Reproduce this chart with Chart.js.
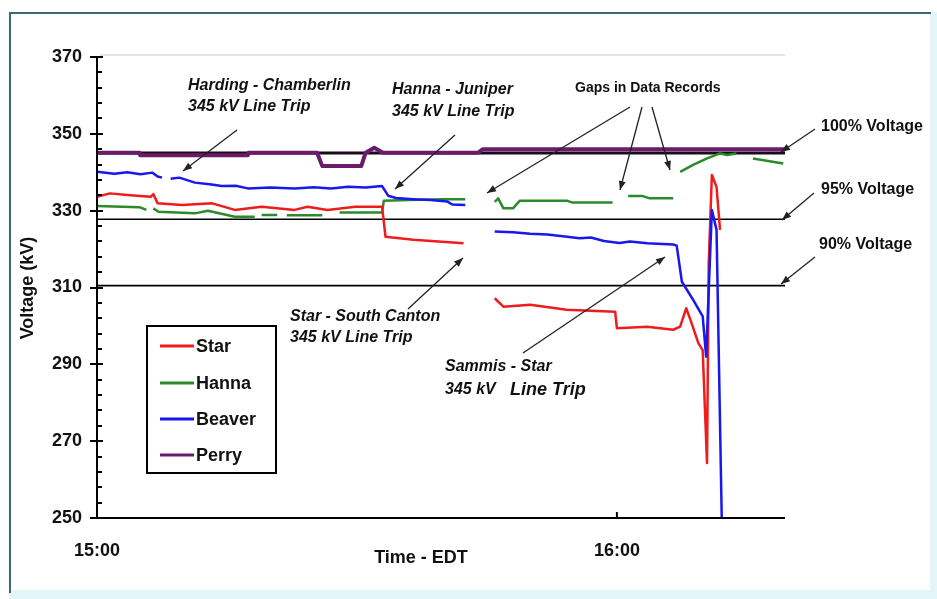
<!DOCTYPE html>
<html><head><meta charset="utf-8">
<script src="https://cdn.jsdelivr.net/npm/chart.js@4.4.1/dist/chart.umd.min.js"></script>
<style>html,body{margin:0;padding:0;background:#fff;}canvas{display:block;}</style>
</head><body>
<canvas id="c" width="937" height="599"></canvas>
<script>
// ---- data (time in minutes after 15:00 EDT, voltage in kV) ----
const starT = [0,1.5,3.5,5,6.2,6.5,7.0,9.8,13.3,15.9,19,22.8,24.3,26.6,29.8,32.9,33.3,36.5,42.3,44,45.9,46.9,50,54.2,59.8,60.0,63.5,66.5,67.3,68,68.5,69.4,69.9,70.4,70.6,70.96,71.5,71.9];
const starV = [333.6,334.5,334.1,333.8,333.6,334.3,331.9,331.5,331.9,330.2,331.0,330.2,331.0,330.2,331.0,331.0,323.2,322.4,321.5,null,307.2,305.0,305.5,304.2,303.7,299.4,299.8,299.0,299.8,304.6,301.5,295.5,293.7,264.3,316.3,339.3,336.2,325];

const hannaT = [0,4.9,5.7,6.1,6.5,7.1,11.3,12.8,15.9,18.2,18.6,19.0,20.8,21.3,21.9,26.0,27.0,28.0,32.9,33.1,36,40,42.5,44,45.9,46.3,46.9,48,48.8,54.2,54.9,59.5,60.4,61.3,63,63.8,66.5,66.9,67.3,68.8,70.4,71.9,72.7,73.8,74.7,75.7,79.2];
const hannaV = [331.2,330.9,330.2,null,330.6,329.7,329.3,330.0,328.4,328.4,null,328.9,328.9,null,328.8,328.8,null,329.5,329.5,332.6,332.8,333.0,333.0,null,332.3,333.2,330.6,330.6,332.6,332.6,332.1,332.1,null,333.8,333.8,333.2,333.2,null,340.1,341.9,343.6,344.9,344.5,344.9,null,343.6,342.3];

const beaverT = [0,2,3.5,5,6.4,7.0,7.5,8.0,8.5,9.5,11.3,13,14.4,16,17.4,20,22.8,25,27,29,31,32.9,33.6,34.5,36.5,38.5,40.4,41.0,42.5,44,45.9,48,50,52,54,55.7,57,58.5,60.3,61.5,63.5,66.5,66.9,67.5,68.8,69.9,70.3,70.96,71.5,72.1];
const beaverV = [340.1,339.6,340.0,339.5,339.9,338.9,338.6,null,338.3,338.6,337.3,336.9,336.4,336.5,335.8,336.0,335.8,336.1,335.8,336.2,336.0,336.4,333.9,333.3,333.0,332.8,332.4,331.6,331.5,null,324.6,324.4,324.0,323.8,323.3,322.8,323.0,322.1,321.6,322.0,321.5,321.2,320.9,311.5,306.8,302.5,292,330.2,325,250];

const perryT = [0,4.9,5.0,17.4,17.5,25.4,26.0,30.5,31.0,32.0,33.0,44.0,44.5,79.4];
const perryV = [345.1,345.1,344.4,344.4,345.1,345.1,341.6,341.6,345.1,346.4,345.1,345.1,346.0,346.0];

// reference voltage levels (100%, 95%, 90% of 345 kV)
const refT = [0,79.4];
const ref100 = [345,345];
const ref95 = [327.75,327.75];
const ref90 = [310.5,310.5];

const seriesNames = ['Star','Hanna','Beaver','Perry'];
const seriesColors = ['#ee1c1c','#2b8a2b','#1818ee','#6a1c6a'];

const xTickValues = [0,60];
const xTickLabels = ['15:00','16:00'];
const yMin = 250, yMax = 370, yMajor = 20, yMinor = 4;
const xMin = 0, xMax = 79.4;

const toXY = (t,v) => t.map((x,i)=>({x:x, y:v[i]}));
const isMajor = v => (Math.round(v - yMin) % yMajor) === 0;
const FONT = "'Liberation Sans', Arial, sans-serif";

const frame = {
  id:'frame',
  beforeDraw(chart){
    const c = chart.ctx;
    c.save();
    c.fillStyle = '#e4f5f9'; c.fillRect(0,0,937,599);
    c.fillStyle = '#ffffff'; c.fillRect(0,0,930,590);
    c.fillRect(0,0,937,12);
    c.fillRect(0,0,9,599);
    c.strokeStyle = '#3d6878'; c.lineWidth = 2;
    c.beginPath(); c.moveTo(10,593); c.lineTo(10,13); c.lineTo(931,13); c.stroke();
    c.restore();
  }
};

function arrow(c,x1,y1,x2,y2){
  c.beginPath(); c.moveTo(x1,y1); c.lineTo(x2,y2); c.stroke();
  const a = Math.atan2(y2-y1,x2-x1), L=9, W=3.5;
  c.beginPath();
  c.moveTo(x2,y2);
  c.lineTo(x2-L*Math.cos(a)+W*Math.sin(a), y2-L*Math.sin(a)-W*Math.cos(a));
  c.lineTo(x2-L*Math.cos(a)-W*Math.sin(a), y2-L*Math.sin(a)+W*Math.cos(a));
  c.closePath(); c.fill();
}

const deco = {
  id:'deco',
  afterDraw(chart){
    const c = chart.ctx, xs = chart.scales.x, ys = chart.scales.y;
    const {left,right,top,bottom} = chart.chartArea;
    c.save();
    // faint top border
    c.strokeStyle = '#e4e4e4'; c.lineWidth = 2;
    c.beginPath(); c.moveTo(left+3, top-2); c.lineTo(right, top-2); c.stroke();
    // axes
    c.strokeStyle = '#000'; c.lineWidth = 2;
    c.beginPath(); c.moveTo(left, top); c.lineTo(left, bottom); c.lineTo(right, bottom); c.stroke();
    // y ticks
    c.lineWidth = 2;
    for (let v = yMin; v <= yMax; v += yMinor){
      const y = Math.round(ys.getPixelForValue(v));
      c.beginPath();
      if (isMajor(v)){ c.moveTo(left-7, y); c.lineTo(left+6, y); }
      else { c.moveTo(left, y); c.lineTo(left+5, y); }
      c.stroke();
    }
    // x tick at 16:00
    const x16 = xs.getPixelForValue(60);
    c.beginPath(); c.moveTo(x16, bottom); c.lineTo(x16, bottom-6); c.stroke();

    // legend
    c.fillStyle = '#fff'; c.fillRect(147,326,129,147);
    c.strokeStyle = '#000'; c.lineWidth = 2; c.strokeRect(147,326,129,147);
    c.font = 'bold 18px ' + FONT; c.textBaseline = 'middle'; c.textAlign = 'left';
    const ly = [346,383,419,455];
    seriesNames.forEach((n,i)=>{
      c.strokeStyle = seriesColors[i]; c.lineWidth = 3;
      c.beginPath(); c.moveTo(160, ly[i]); c.lineTo(194, ly[i]); c.stroke();
      c.fillStyle = '#111'; c.fillText(n, 196, ly[i]+1);
    });

    // axis titles
    c.fillStyle = '#111';
    c.font = 'bold 18px ' + FONT; c.textAlign = 'center';
    c.fillText('Time - EDT', 421, 558);
    c.save(); c.translate(28, 288); c.rotate(-Math.PI/2);
    c.fillText('Voltage (kV)', 0, 0); c.restore();

    // annotations
    c.textAlign = 'left';
    c.font = 'italic bold 16px ' + FONT;
    c.fillText('Harding - Chamberlin', 188, 86);
    c.fillText('345 kV Line Trip', 188, 107);
    c.fillText('Hanna - Juniper', 392, 90);
    c.fillText('345 kV Line Trip', 392, 112);
    c.fillText('Star - South Canton', 290, 317);
    c.fillText('345 kV Line Trip', 290, 338);
    c.fillText('Sammis - Star', 445, 367);
    c.fillText('345 kV', 445, 390);
    c.font = 'italic bold 18px ' + FONT;
    c.fillText('Line Trip', 510, 390);
    c.font = 'bold 14px ' + FONT;
    c.fillText('Gaps in Data Records', 575, 88);
    c.font = 'bold 16px ' + FONT;
    c.fillText('100% Voltage', 821, 127);
    c.fillText('95% Voltage', 821, 190);
    c.fillText('90% Voltage', 819, 245);

    // arrows
    c.strokeStyle = '#222'; c.fillStyle = '#222'; c.lineWidth = 1.3;
    arrow(c,237,130,183,171);
    arrow(c,455,135,395,189);
    arrow(c,630,107,487,193);
    arrow(c,642,107,620,190);
    arrow(c,652,107,670,170);
    arrow(c,815,129,781,152);
    arrow(c,814,193,782,220);
    arrow(c,815,257,781,284);
    arrow(c,408,309,463,258);
    arrow(c,523,353,665,257);
    c.restore();
  }
};

const lineDs = (label, t, v, color, w) => ({
  label, data: toXY(t,v), borderColor: color, backgroundColor: color,
  borderWidth: w, pointRadius: 0, tension: 0, spanGaps: false,
  borderJoinStyle: 'round', borderCapStyle: 'butt', fill: false
});

new Chart(document.getElementById('c'), {
  type: 'line',
  data: { datasets: [
    lineDs(seriesNames[2], beaverT, beaverV, seriesColors[2], 2.5),
    lineDs(seriesNames[0], starT, starV, seriesColors[0], 2.5),
    lineDs(seriesNames[1], hannaT, hannaV, seriesColors[1], 2.5),
    lineDs(seriesNames[3], perryT, perryV, seriesColors[3], 4),
    lineDs('100%', refT, ref100, '#1a0a1a', 3),
    lineDs('95%', refT, ref95, '#000', 1.6),
    lineDs('90%', refT, ref90, '#000', 1.6)
  ]},
  options: {
    responsive: false, animation: false, devicePixelRatio: 1,
    layout: { padding: { top: 57, right: 152, bottom: 0, left: 0 } },
    plugins: { legend: { display: false }, tooltip: { enabled: false } },
    scales: {
      x: {
        type: 'linear', min: xMin, max: xMax,
        afterBuildTicks: s => { s.ticks = xTickValues.map(v=>({value:v})); },
        afterFit: s => { s.height = 81; },
        ticks: { callback: v => xTickLabels[xTickValues.indexOf(v)] ?? '', font: { family: FONT, size: 18, weight: 'bold' }, color: '#111', padding: 22, maxRotation: 0, autoSkip: false },
        grid: { display: false, drawTicks: false }, border: { display: false }
      },
      y: {
        type: 'linear', min: yMin, max: yMax,
        afterBuildTicks: s => { const t=[]; for (let v=yMin; v<=yMax; v+=yMinor) t.push({value:v}); s.ticks = t; },
        afterFit: s => { s.width = 97; },
        ticks: { callback: v => (isMajor(v) ? String(v) : ''), font: { family: FONT, size: 18, weight: 'bold' }, color: '#111', padding: 15, autoSkip: false },
        grid: { display: false, drawTicks: false }, border: { display: false }
      }
    }
  },
  plugins: [frame, deco]
});
</script>
</body></html>
